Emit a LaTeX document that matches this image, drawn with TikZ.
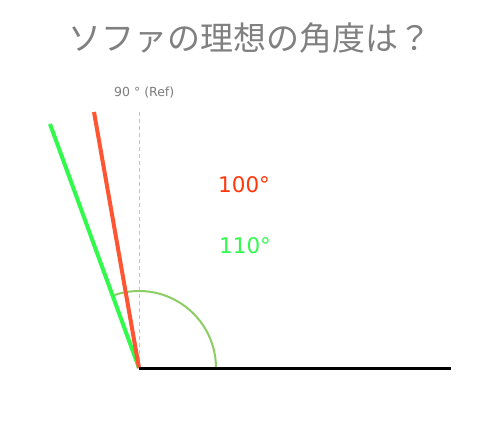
\documentclass[tikz,border=0pt]{standalone}
\usepackage{fontspec}
\setmainfont{DejaVu Sans}
\newfontfamily\cjk{Noto Sans CJK JP}
\definecolor{titlegray}{RGB}{128,128,128}
\definecolor{refgray}{RGB}{125,125,125}
\definecolor{dashgray}{RGB}{195,195,195}
\definecolor{redline}{RGB}{255,85,50}
\definecolor{redtext}{RGB}{255,55,10}
\definecolor{greenline}{RGB}{50,250,75}
\definecolor{greentext}{RGB}{50,250,80}
\definecolor{arcgreen}{RGB}{140,205,100}
\tikzset{
  seat/.style={line width=3pt, black},
  backred/.style={line width=4pt, redline},
  backgreen/.style={line width=4pt, greenline},
  refline/.style={line width=1pt, dashgray, dash pattern=on 4pt off 3pt},
  anglearc/.style={line width=2pt, arcgreen},
  label/.style={inner sep=0pt, anchor=west, font=\fontsize{21.5}{21.5}\selectfont}
}
\begin{document}
\begin{tikzpicture}[x=1pt,y=-1pt]
\useasboundingbox[fill=white] (0,0) rectangle (484,430);
\node[inner sep=0pt, text=titlegray, font=\cjk\fontsize{33}{33}\selectfont] (title) at (250,38) {ソファの理想の角度は？};
\node[inner sep=0pt, text=refgray, font=\fontsize{12.5}{12.5}\selectfont, anchor=west] (ref) at (114,93) {90 ° (Ref)};
\coordinate (O) at (139,368);
\coordinate (E) at (451,368);
\coordinate (T) at (139,112);
\coordinate (R) at (94,112);
\coordinate (G) at (50,124);
\draw[refline] (O) -- (T);
\draw[anglearc] (O) ++(77,0) arc[start angle=0, end angle=-110, radius=77];
\draw[backgreen] (O) -- (G);
\draw[backred] (O) -- (R);
\draw[seat] (O) -- (E);
\node[label, text=redtext] (a100) at (218,185) {100°};
\node[label, text=greentext] (a110) at (219,246) {110°};
\end{tikzpicture}
\end{document}
